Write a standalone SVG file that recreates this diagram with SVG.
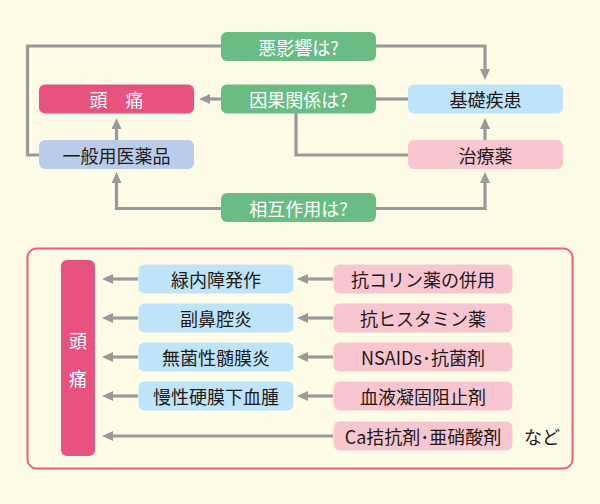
<svg xmlns="http://www.w3.org/2000/svg" width="600" height="504" viewBox="0 0 600 504">
<defs>
<style>
.t{font-family:"Noto Sans CJK JP","Noto Sans",sans-serif;font-size:18px;text-anchor:middle;dominant-baseline:central;fill:#231815}
.w{fill:#ffffff}
.g{fill:#69bc82}
.r{fill:#e8527f}
.b{fill:#bde4f8}
.p{fill:#f7c6d0}
.v{fill:#b9cdea}
.c{fill:none;stroke:#9a9a9a;stroke-width:3.2}
</style>
<marker id="ah" markerUnits="userSpaceOnUse" markerWidth="12" markerHeight="11" refX="0" refY="5" orient="auto">
<path d="M0,0 L11,5 L0,10 z" fill="#9a9a9a"/>
</marker>
</defs>
<rect width="600" height="504" fill="#fefce7"/>
<g id="connectors">
<path class="c" d="M221,46 H27.5 V155 H39"/>
<path class="c" d="M376,46 H485 V69" marker-end="url(#ah)"/>
<path class="c" d="M221,99 H210" marker-end="url(#ah)"/>
<path class="c" d="M376,99 H408"/>
<path class="c" d="M296,113 V155 H408"/>
<path class="c" d="M116.5,140 V129" marker-end="url(#ah)"/>
<path class="c" d="M485,140 V129" marker-end="url(#ah)"/>
<path class="c" d="M221,208.5 H116.5 V183" marker-end="url(#ah)"/>
<path class="c" d="M376,208.5 H485 V183" marker-end="url(#ah)"/>
<path class="c" d="M138,279 H113" marker-end="url(#ah)"/>
<path class="c" d="M138,318 H113" marker-end="url(#ah)"/>
<path class="c" d="M138,357 H113" marker-end="url(#ah)"/>
<path class="c" d="M138,396 H113" marker-end="url(#ah)"/>
<path class="c" d="M333,279 H308" marker-end="url(#ah)"/>
<path class="c" d="M333,318 H308" marker-end="url(#ah)"/>
<path class="c" d="M333,357 H308" marker-end="url(#ah)"/>
<path class="c" d="M333,396 H308" marker-end="url(#ah)"/>
<path class="c" d="M333,436 H113" marker-end="url(#ah)"/>
</g>
<g id="n-akueikyo"><rect class="g" x="221" y="32" width="155" height="29" rx="6"/><text class="t w" x="298.5" y="46.5">悪影響は?</text></g>
<g id="n-zutsu"><rect class="r" x="39" y="84.5" width="155" height="29" rx="6"/><text class="t w" x="116.5" y="99" xml:space="preserve">頭　痛</text></g>
<g id="n-inga"><rect class="g" x="221" y="84.5" width="155" height="29" rx="6"/><text class="t w" x="298.5" y="99">因果関係は?</text></g>
<g id="n-kiso"><rect class="b" x="408" y="84.5" width="155" height="29" rx="6"/><text class="t" x="485.5" y="99">基礎疾患</text></g>
<g id="n-ippan"><rect class="v" x="39" y="140" width="155" height="29" rx="6"/><text class="t" x="116.5" y="154.5">一般用医薬品</text></g>
<g id="n-chiryo"><rect class="p" x="408" y="140" width="155" height="29" rx="6"/><text class="t" x="485.5" y="154.5">治療薬</text></g>
<g id="n-sogo"><rect class="g" x="221" y="193" width="155" height="29" rx="6"/><text class="t w" x="298.5" y="207.5">相互作用は?</text></g>
<g id="frame"><rect x="27.5" y="248.5" width="545" height="220" rx="9" fill="none" stroke="#e8607e" stroke-width="2"/></g>
<g id="n-zutsu2"><rect class="r" x="61" y="260" width="34" height="196" rx="6"/><text class="t w" x="78" y="340">頭</text><text class="t w" x="78" y="378">痛</text></g>
<g id="n-b1"><rect class="b" x="138.5" y="264.5" width="155" height="29" rx="6"/><text class="t" x="216" y="279">緑内障発作</text></g>
<g id="n-b2"><rect class="b" x="138.5" y="303.5" width="155" height="29" rx="6"/><text class="t" x="216" y="318">副鼻腔炎</text></g>
<g id="n-b3"><rect class="b" x="138.5" y="342.5" width="155" height="29" rx="6"/><text class="t" x="216" y="357">無菌性髄膜炎</text></g>
<g id="n-b4"><rect class="b" x="138.5" y="381.5" width="155" height="29" rx="6"/><text class="t" x="216" y="396">慢性硬膜下血腫</text></g>
<g id="n-p1"><rect class="p" x="333.5" y="264.5" width="179" height="29" rx="6"/><text class="t" x="423" y="279">抗コリン薬の併用</text></g>
<g id="n-p2"><rect class="p" x="333.5" y="303.5" width="179" height="29" rx="6"/><text class="t" x="423" y="318">抗ヒスタミン薬</text></g>
<g id="n-p3"><rect class="p" x="333.5" y="342.5" width="179" height="29" rx="6"/><text class="t" x="423" y="357">NSAIDs･抗菌剤</text></g>
<g id="n-p4"><rect class="p" x="333.5" y="381.5" width="179" height="29" rx="6"/><text class="t" x="423" y="396">血液凝固阻止剤</text></g>
<g id="n-p5"><rect class="p" x="333.5" y="421.5" width="179" height="29" rx="6"/><text class="t" x="423" y="436">Ca拮抗剤･亜硝酸剤</text></g>
<text class="t" x="542" y="436">など</text>
</svg>
